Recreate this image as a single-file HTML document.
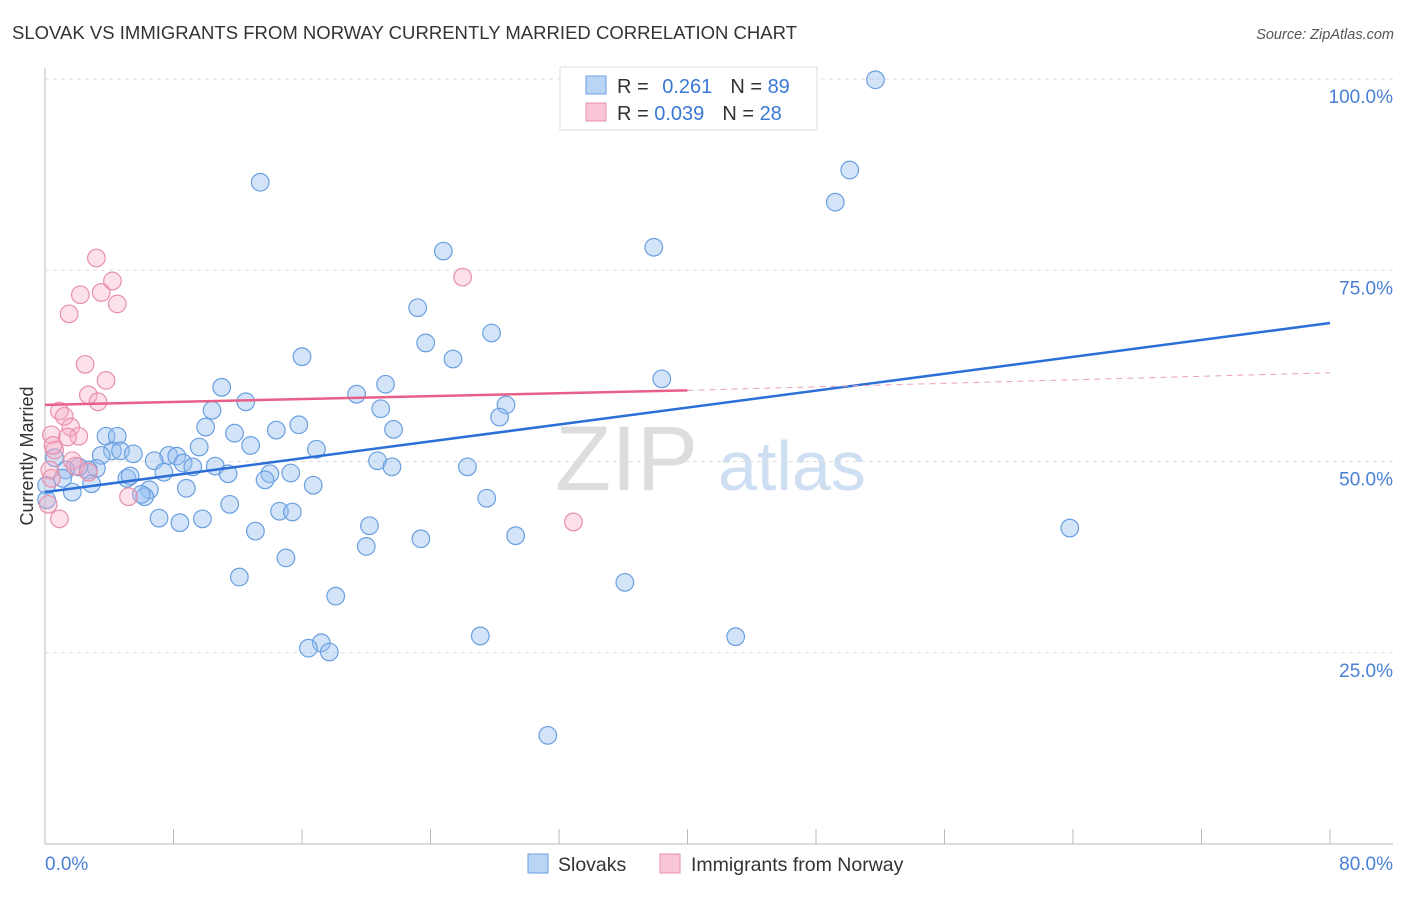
<!DOCTYPE html>
<html><head><meta charset="utf-8"><style>
body{margin:0;background:#fff;font-family:"Liberation Sans",sans-serif}
svg text{font-family:"Liberation Sans",sans-serif}
</style></head><body>
<svg width="1406" height="892" id="c">
<text x="12" y="39" font-size="18.5" fill="#333" textLength="785">SLOVAK VS IMMIGRANTS FROM NORWAY CURRENTLY MARRIED CORRELATION CHART</text>
<text x="1394" y="39" font-size="14.5" fill="#555" font-style="italic" text-anchor="end">Source: ZipAtlas.com</text>
<text x="33" y="456" font-size="18" fill="#333" text-anchor="middle" transform="rotate(-90 33 456)">Currently Married</text>
<g><text x="555" y="490" font-size="92" fill="#ddd" font-family="Liberation Serif">ZIP</text><text x="718" y="490" font-size="70" fill="#cfdff3">atlas</text></g>
<g id="grid"></g><g id="marks"></g>
<g>
<rect x="560" y="67" width="257" height="63" fill="#fff" stroke="#ddd"/>
<rect x="586" y="76" width="20" height="18" fill="#b9d4f5" stroke="#6a9fe0"/>
<rect x="586" y="103" width="20" height="18" fill="#f8c6d5" stroke="#e890aa"/>
<text x="617" y="93" font-size="20" fill="#333">R = <tspan fill="#3a78d4" dx="8">0.261</tspan><tspan dx="18" fill="#333">N = </tspan><tspan fill="#3a78d4">89</tspan></text>
<text x="617" y="120" font-size="20" fill="#333">R = <tspan fill="#3a78d4">0.039</tspan><tspan dx="18" fill="#333">N = </tspan><tspan fill="#3a78d4">28</tspan></text>
</g>
<g>
<rect x="528" y="854" width="20" height="19" fill="#b9d4f5" stroke="#6a9fe0"/>
<text x="558" y="871" font-size="19.5" fill="#333">Slovaks</text>
<rect x="660" y="854" width="20" height="19" fill="#f8c6d5" stroke="#e890aa"/>
<text x="691" y="871" font-size="19.5" fill="#333">Immigrants from Norway</text>
</g>
</svg>
<script>
const xTickLabels=["0.0%","80.0%"];
const yTicks=[25,50,75,100];
const yTickLabels=["25.0%","50.0%","75.0%","100.0%"];
const slovakX=[51.7,50.1,49.2,37.9,13.4,24.8,23.2,27.8,23.7,25.4,16.0,38.4,21.2,19.4,11.0,12.5,10.4,20.9,28.7,28.3,15.8,10.0,21.7,14.4,11.8,3.8,4.5,12.8,16.9,9.6,4.2,4.7,5.5,3.5,7.7,8.2,6.8,0.6,8.6,9.2,10.6,20.7,21.6,26.3,1.3,3.2,2.7,2.1,7.4,11.4,15.3,14.0,1.1,5.1,5.3,13.7,2.9,16.7,0.1,8.8,6.5,1.7,6.2,6.0,27.5,0.1,11.5,14.6,15.4,7.1,9.8,8.4,20.2,63.8,13.1,29.3,23.4,20.0,15.0,12.1,36.1,18.1,27.1,43.0,17.2,16.4,17.7,31.3];
const slovakY=[99.9,88.1,83.9,78.0,86.5,77.5,70.1,66.8,65.5,63.4,63.7,60.8,60.1,58.8,59.7,57.8,56.7,56.9,57.4,55.8,54.8,54.5,54.2,54.1,53.7,53.3,53.3,52.1,51.6,51.9,51.4,51.4,51.0,50.8,50.8,50.7,50.1,50.5,49.8,49.3,49.4,50.1,49.3,49.3,48.9,49.1,48.9,49.3,48.6,48.4,48.5,48.4,47.8,47.8,48.1,47.6,47.1,46.9,46.9,46.5,46.3,46.0,45.4,45.7,45.2,45.0,44.4,43.5,43.4,42.6,42.5,42.0,41.6,41.3,40.9,40.3,39.9,38.9,37.4,34.9,34.2,32.4,27.2,27.1,26.3,25.6,25.1,14.2];
const norwayX=[3.2,4.2,26.0,2.2,3.5,4.5,1.5,2.5,3.8,2.7,3.3,0.9,1.2,1.6,2.1,0.4,1.4,0.6,1.7,1.9,2.7,0.4,5.2,0.2,0.9,32.9,0.3,0.5];
const norwayY=[76.6,73.6,74.1,71.8,72.1,70.6,69.3,62.7,60.6,58.7,57.8,56.6,55.9,54.5,53.3,53.5,53.2,51.5,50.1,49.4,48.6,47.8,45.4,44.4,42.5,42.1,48.9,52.1];
const slovakTrend=[0,46.0,80,68.1];
const norwayTrend=[0,57.4,40,59.3,80,61.6];
const X=v=>45+v/80*1285, Y=v=>844-v/100*765;
const NS="http://www.w3.org/2000/svg";
function mk(t,a,p){const e=document.createElementNS(NS,t);for(const k in a)e.setAttribute(k,a[k]);p.appendChild(e);return e;}
const g=document.getElementById('grid'), m=document.getElementById('marks');
let ax=mk('line',{x1:45,y1:68,x2:45,y2:844,stroke:'#bbb'},g);


let bx=mk('line',{x1:45,y1:844,x2:1393,y2:844,stroke:'#bbb'},g);


for(let i=1;i<=10;i++){const l=mk('line',{x1:X(i*8),y1:829,x2:X(i*8),y2:844,stroke:'#bbb'},g);

}
yTicks.forEach((v,i)=>{const l=mk('line',{x1:45,y1:Y(v),x2:1393,y2:Y(v),stroke:'#ddd','stroke-dasharray':'4,4'},g);


const t=mk('text',{x:1393,y:Y(v)+24,'font-size':19,fill:'#4a7fd6','text-anchor':'end'},g);t.textContent=yTickLabels[i];

});
[[0,45,'start'],[1,1393,'end']].forEach(([i,x,a])=>{const t=mk('text',{x:x,y:870,'font-size':19,fill:'#4a7fd6','text-anchor':a},g);t.textContent=xTickLabels[i];

});
slovakX.forEach((v,i)=>{const c=mk('circle',{cx:X(v),cy:Y(slovakY[i]),r:8.8,fill:'rgba(150,190,240,0.42)',stroke:'#6a9fe0','stroke-width':1.2},m);

});
norwayX.forEach((v,i)=>{const c=mk('circle',{cx:X(v),cy:Y(norwayY[i]),r:8.8,fill:'rgba(245,170,195,0.35)',stroke:'#e890aa','stroke-width':1.2},m);

});
let t1=mk('line',{x1:X(slovakTrend[0]),y1:Y(slovakTrend[1]),x2:X(slovakTrend[2]),y2:Y(slovakTrend[3]),stroke:'#2c6fd6','stroke-width':2.5},m);


let t2=mk('line',{x1:X(norwayTrend[0]),y1:Y(norwayTrend[1]),x2:X(norwayTrend[2]),y2:Y(norwayTrend[3]),stroke:'#e8608a','stroke-width':2.5},m);


let t3=mk('line',{x1:X(norwayTrend[2]),y1:Y(norwayTrend[3]),x2:X(norwayTrend[4]),y2:Y(norwayTrend[5]),stroke:'#e8a0b8','stroke-width':1,'stroke-dasharray':'6,5'},m);


</script>
</body></html>
